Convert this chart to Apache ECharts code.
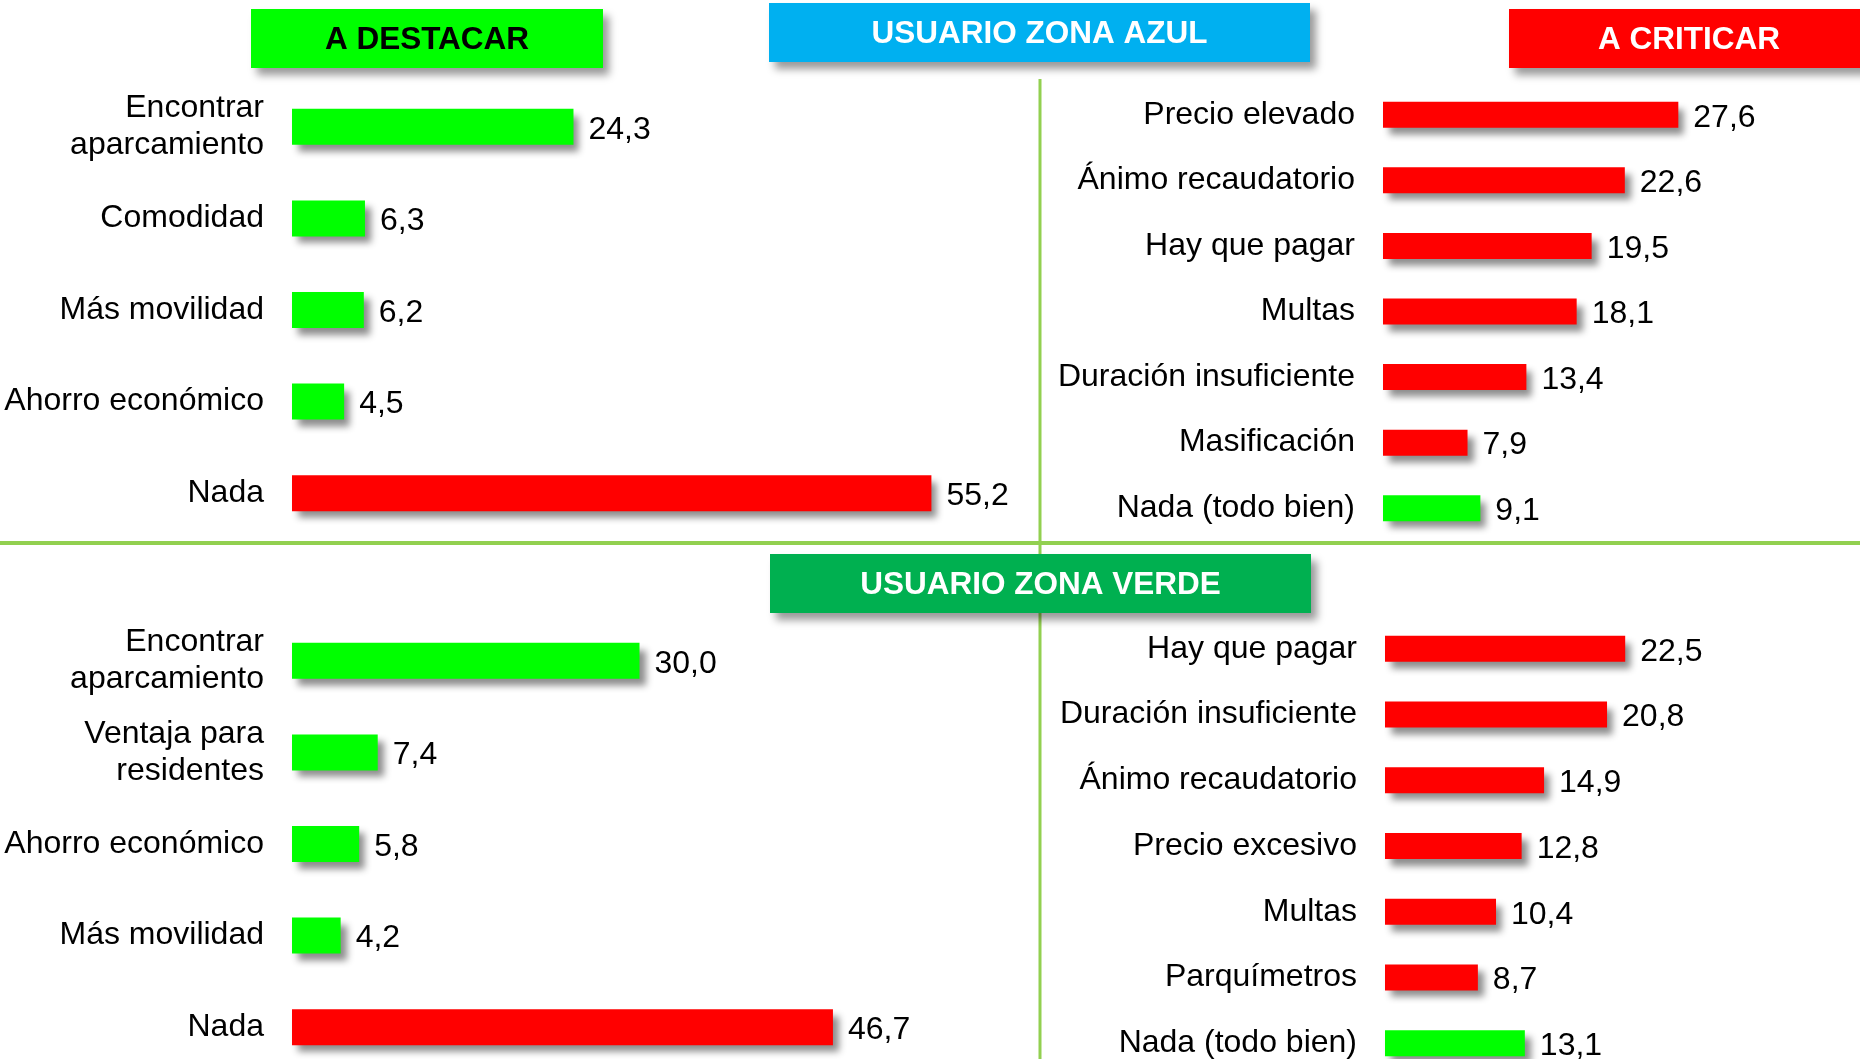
<!DOCTYPE html>
<html>
<head>
<meta charset="utf-8">
<script src="https://cdn.jsdelivr.net/npm/echarts@6/dist/echarts.min.js"></script>
<style>
  html, body { margin: 0; padding: 0; background: #fff; }
  #chart { width: 1860px; height: 1059px; }
</style>
</head>
<body>
<div id="chart"></div>
<script>
// usuario zona azul
const azulDestacarCats = ['Encontrar\naparcamiento', 'Comodidad', 'Más movilidad', 'Ahorro económico', 'Nada'];
const azulDestacarVals = [24.3, 6.3, 6.2, 4.5, 55.2];
const azulCriticarCats = ['Precio elevado', 'Ánimo recaudatorio', 'Hay que pagar', 'Multas', 'Duración insuficiente', 'Masificación', 'Nada (todo bien)'];
const azulCriticarVals = [27.6, 22.6, 19.5, 18.1, 13.4, 7.9, 9.1];

// usuario zona verde
const verdeDestacarCats = ['Encontrar\naparcamiento', 'Ventaja para\nresidentes', 'Ahorro económico', 'Más movilidad', 'Nada'];
const verdeDestacarVals = [30.0, 7.4, 5.8, 4.2, 46.7];
const verdeCriticarCats = ['Hay que pagar', 'Duración insuficiente', 'Ánimo recaudatorio', 'Precio excesivo', 'Multas', 'Parquímetros', 'Nada (todo bien)'];
const verdeCriticarVals = [22.5, 20.8, 14.9, 12.8, 10.4, 8.7, 13.1];

const GREEN = '#00ff00';
const RED = '#ff0000';
const FONT = 'Liberation Sans, Arial, sans-serif';

const chart = echarts.init(document.getElementById('chart'));

function fmt(v) {
    return v.toFixed(1).replace('.', ',');
}

// "Nada" is the odd one out in each panel
function colorFor(kind) {
    return function (p) {
        const nada = p.name.indexOf('Nada') === 0;
        if (kind === 'destacar') return nada ? RED : GREEN;
        return nada ? GREEN : RED;
    };
}

const grids = [
    { left: 292, top: 81, width: 695, height: 458 },
    { left: 1383, top: 82, width: 428, height: 459 },
    { left: 292, top: 615, width: 695, height: 458 },
    { left: 1385, top: 616, width: 427, height: 460 }
].map(g => Object.assign(g, { outerBoundsMode: 'none', containLabel: false }));

const panels = [
    { cats: azulDestacarCats, vals: azulDestacarVals, kind: 'destacar', max: 60, bw: 36 },
    { cats: azulCriticarCats, vals: azulCriticarVals, kind: 'criticar', max: 40, bw: 26 },
    { cats: verdeDestacarCats, vals: verdeDestacarVals, kind: 'destacar', max: 60, bw: 36 },
    { cats: verdeCriticarCats, vals: verdeCriticarVals, kind: 'criticar', max: 40, bw: 26 }
];

const xAxis = panels.map((p, i) => ({
    type: 'value',
    gridIndex: i,
    min: 0,
    max: p.max,
    show: false
}));

const yAxis = panels.map((p, i) => ({
    type: 'category',
    gridIndex: i,
    data: p.cats,
    inverse: true,
    axisLine: { show: false },
    axisTick: { show: false },
    splitLine: { show: false },
    axisLabel: {
        margin: 28,
        color: '#000',
        fontFamily: FONT,
        fontSize: 32,
        lineHeight: 37,
        align: 'right',
        backgroundColor: 'rgba(255,255,255,0)',
        padding: [5, 0, 0, 0]
    }
}));

const series = panels.map((p, i) => ({
    type: 'bar',
    xAxisIndex: i,
    yAxisIndex: i,
    data: p.vals,
    barWidth: p.bw,
    itemStyle: {
        color: colorFor(p.kind),
        shadowBlur: 7,
        shadowOffsetX: 6,
        shadowOffsetY: 7,
        shadowColor: 'rgba(0,0,0,0.45)'
    },
    label: {
        show: true,
        position: 'right',
        distance: 15,
        offset: [0, 3],
        color: '#000',
        fontFamily: FONT,
        fontSize: 32,
        formatter: (d) => fmt(d.value)
    }
}));

function titleBox(x, y, w, h, fill, text, textColor) {
    return [
        {
            type: 'rect',
            shape: { x: x, y: y, width: w, height: h },
            style: {
                fill: fill,
                shadowBlur: 8,
                shadowOffsetX: 6,
                shadowOffsetY: 7,
                shadowColor: 'rgba(0,0,0,0.4)'
            },
            z: 10
        },
        {
            type: 'text',
            x: x + w / 2,
            y: y + h / 2 + 2,
            style: {
                text: text,
                fill: textColor,
                font: 'bold 31.5px ' + FONT,
                align: 'center',
                verticalAlign: 'middle'
            },
            z: 11
        }
    ];
}

const graphic = [
    {
        type: 'line',
        shape: { x1: 0, y1: 543, x2: 1860, y2: 543 },
        style: { stroke: '#92d050', lineWidth: 4 },
        z: 1
    },
    {
        type: 'line',
        shape: { x1: 1040, y1: 79, x2: 1040, y2: 1059 },
        style: { stroke: '#92d050', lineWidth: 3 },
        z: 1
    }
].concat(
    titleBox(251, 9, 352, 59, GREEN, 'A DESTACAR', '#000'),
    titleBox(769, 3, 541, 59, '#00b0f0', 'USUARIO ZONA AZUL', '#fff'),
    titleBox(1509, 9, 360, 59, RED, 'A CRITICAR', '#fff'),
    titleBox(770, 554, 541, 59, '#00b050', 'USUARIO ZONA VERDE', '#fff')
);

chart.setOption({
    backgroundColor: '#fff',
    animation: false,
    grid: grids,
    xAxis: xAxis,
    yAxis: yAxis,
    series: series,
    graphic: graphic
});
</script>
</body>
</html>
